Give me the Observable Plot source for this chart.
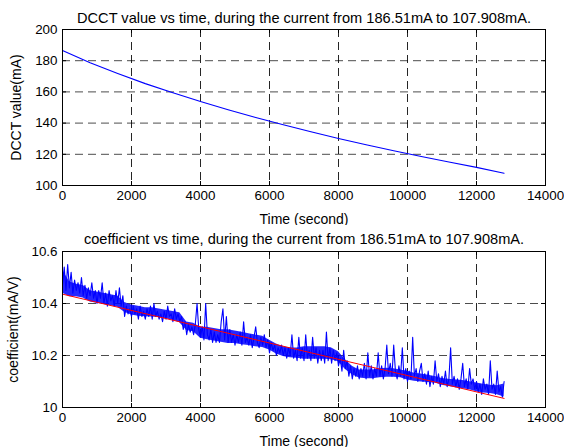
<!DOCTYPE html>
<html>
<head>
<meta charset="utf-8">
<script src="https://cdn.jsdelivr.net/npm/d3@7"></script>
<script src="https://cdn.jsdelivr.net/npm/@observablehq/plot@0.6"></script>
<style>
  html, body { margin: 0; padding: 0; background: #fff; }
  #chart svg { display: block; }
</style>
</head>
<body>
<div id="chart"></div>
<script>
// ---------- data ----------
const xTicks = [0, 2000, 4000, 6000, 8000, 10000, 12000, 14000];
const dcctTicks = [100, 120, 140, 160, 180, 200];
const coefTicks = [10, 10.2, 10.4, 10.6];

const titleTop = "DCCT value vs time, during the current from 186.51mA to 107.908mA.";
const titleBottom = "coefficient vs time, during the current from 186.51mA to 107.908mA.";
const xLabel = "Time (second)";
const yLabelTop = "DCCT value(mA)";
const yLabelBottom = "coefficient(mA/V)";

// DCCT current (mA) sampled every 800 s
const dcctTime = [0, 800, 1600, 2400, 3200, 4000, 4800, 5600, 6400, 7200, 8000, 8800, 9600, 10400, 11200, 12000, 12800];
const dcctValue = [186.51, 178.7, 171.8, 165.3, 159.5, 153.8, 148.6, 143.6, 138.9, 134.4, 130.1, 126.1, 122.3, 118.6, 115.1, 111.6, 107.9];

// coefficient (mA/V) sampled every 50 s, 0 .. 12800 s
const coefStep = 50;
const coefValue = [
  10.47, 10.54, 10.45, 10.55, 10.46, 10.52, 10.44, 10.49, 10.45, 10.48,
  10.44, 10.50, 10.43, 10.47, 10.42, 10.46, 10.43, 10.48, 10.42, 10.45,
  10.40, 10.45, 10.42, 10.48, 10.40, 10.44, 10.39, 10.45, 10.41, 10.43,
  10.39, 10.45, 10.40, 10.46, 10.39, 10.43, 10.35, 10.39, 10.36, 10.38,
  10.35, 10.39, 10.36, 10.38, 10.34, 10.39, 10.35, 10.37, 10.34, 10.38,
  10.35, 10.39, 10.34, 10.40, 10.35, 10.37, 10.34, 10.36, 10.33, 10.37,
  10.34, 10.39, 10.35, 10.36, 10.33, 10.38, 10.34, 10.36, 10.33, 10.35,
  10.30, 10.33, 10.28, 10.32, 10.29, 10.31, 10.28, 10.32, 10.40, 10.30,
  10.27, 10.31, 10.26, 10.40, 10.28, 10.26, 10.30, 10.25, 10.29, 10.25,
  10.28, 10.25, 10.33, 10.38, 10.26, 10.35, 10.25, 10.30, 10.25, 10.28,
  10.24, 10.28, 10.25, 10.29, 10.24, 10.33, 10.25, 10.27, 10.24, 10.28,
  10.23, 10.27, 10.31, 10.25, 10.23, 10.27, 10.24, 10.28, 10.23, 10.26,
  10.21, 10.25, 10.22, 10.24, 10.20, 10.23, 10.21, 10.24, 10.20, 10.23,
  10.19, 10.23, 10.20, 10.28, 10.19, 10.22, 10.18, 10.27, 10.19, 10.23,
  10.18, 10.28, 10.19, 10.22, 10.18, 10.27, 10.19, 10.23, 10.17, 10.22,
  10.18, 10.22, 10.17, 10.29, 10.18, 10.23, 10.17, 10.22, 10.18, 10.21,
  10.16, 10.19, 10.14, 10.22, 10.15, 10.18, 10.12, 10.16, 10.11, 10.15,
  10.12, 10.16, 10.11, 10.15, 10.12, 10.17, 10.11, 10.21, 10.12, 10.16,
  10.11, 10.15, 10.12, 10.21, 10.12, 10.16, 10.11, 10.15, 10.24, 10.13,
  10.17, 10.12, 10.24, 10.14, 10.11, 10.16, 10.12, 10.23, 10.11, 10.15,
  10.10, 10.14, 10.11, 10.27, 10.12, 10.15, 10.10, 10.14, 10.17, 10.10,
  10.13, 10.09, 10.14, 10.08, 10.12, 10.09, 10.18, 10.10, 10.13, 10.08,
  10.12, 10.09, 10.14, 10.08, 10.11, 10.23, 10.09, 10.12, 10.08, 10.11,
  10.07, 10.11, 10.17, 10.08, 10.11, 10.07, 10.15, 10.09, 10.11, 10.07,
  10.10, 10.06, 10.09, 10.05, 10.11, 10.07, 10.09, 10.05, 10.18, 10.07,
  10.09, 10.05, 10.14, 10.06, 10.08, 10.04, 10.10
];

// dense noise band of the coefficient trace (read every 200 s): lower / upper edge
const bandTime = [
  0, 200, 400, 600, 800, 1000, 1200, 1400, 1600, 1800,
  2000, 2200, 2400, 2600, 2800, 3000, 3200, 3400, 3600, 3800,
  4000, 4200, 4400, 4600, 4800, 5000, 5200, 5400, 5600, 5800,
  6000, 6200, 6400, 6600, 6800, 7000, 7200, 7400, 7600, 7800,
  8000, 8200, 8400, 8600, 8800, 9000, 9200, 9400, 9600, 9800,
  10000, 10200, 10400, 10600, 10800, 11000, 11200, 11400, 11600, 11800,
  12000, 12200, 12400, 12600, 12800
];
const bandLow = [
  10.44, 10.426, 10.426, 10.421, 10.406, 10.401, 10.396, 10.391, 10.386, 10.366,
  10.356, 10.351, 10.349, 10.348, 10.346, 10.341, 10.336, 10.326, 10.296, 10.291,
  10.266, 10.261, 10.256, 10.251, 10.246, 10.246, 10.241, 10.238, 10.234, 10.231,
  10.221, 10.206, 10.196, 10.191, 10.189, 10.186, 10.186, 10.186, 10.186, 10.184,
  10.176, 10.146, 10.126, 10.113, 10.111, 10.111, 10.114, 10.116, 10.116, 10.114,
  10.106, 10.101, 10.098, 10.096, 10.094, 10.086, 10.081, 10.076, 10.072, 10.068,
  10.061, 10.056, 10.054, 10.049, 10.04
];
const bandHigh = [
  10.53, 10.484, 10.474, 10.469, 10.449, 10.444, 10.439, 10.434, 10.429, 10.404,
  10.394, 10.389, 10.384, 10.384, 10.379, 10.374, 10.369, 10.364, 10.329, 10.324,
  10.309, 10.309, 10.304, 10.299, 10.299, 10.294, 10.289, 10.284, 10.279, 10.274,
  10.259, 10.244, 10.234, 10.229, 10.229, 10.234, 10.234, 10.234, 10.234, 10.229,
  10.214, 10.184, 10.159, 10.144, 10.144, 10.144, 10.149, 10.151, 10.149, 10.144,
  10.139, 10.132, 10.129, 10.124, 10.119, 10.112, 10.109, 10.106, 10.104, 10.099,
  10.094, 10.089, 10.086, 10.084, 10.09
];

// linear fit (red) end points
const fitTime = [0, 12800];
const fitValue = [10.436, 10.035];

// ---------- build tables ----------
const dcctData = dcctTime.map((t, i) => ({t, v: dcctValue[i]}));
const coefData = coefValue.map((v, i) => ({t: i * coefStep, v}));
const bandData = bandTime.map((t, i) => ({t, lo: bandLow[i], hi: bandHigh[i]}));
const fitData = fitTime.map((t, i) => ({t, v: fitValue[i]}));

const W = 564;
const font = "'Liberation Sans', Arial, Helvetica, sans-serif";

function panel({height, marginTop, marginBottom, yDomain, yTicks, data, band, fit, title, yLabel, titleDy, yLabelOffset}) {
  const marginLeft = 62, marginRight = 19;
  const fw = W - marginLeft - marginRight;
  const fh = height - marginTop - marginBottom;
  const inner = (a) => a.slice(1, -1);
  const marks = [
    Plot.gridX(inner(xTicks), {stroke: "#000", strokeOpacity: 0.85, strokeDasharray: "8,5"}),
    Plot.gridY(inner(yTicks), {stroke: "#000", strokeOpacity: 0.7, strokeDasharray: "8,5"}),
  ];
  if (band) marks.push(Plot.areaY(band, {x: "t", y1: "lo", y2: "hi", fill: "#0000ff", fillOpacity: 0.85, curve: "linear"}));
  marks.push(Plot.line(data, {x: "t", y: "v", stroke: "#0000ff", strokeWidth: 1.1}));
  if (fit) marks.push(Plot.line(fit, {x: "t", y: "v", stroke: "#ff0000", strokeWidth: 1}));
  marks.push(
    Plot.tickX(xTicks, {x: d => d, stroke: "#000", insetTop: fh - 4}),
    Plot.tickX(xTicks, {x: d => d, stroke: "#000", insetBottom: fh - 4}),
    Plot.tickY(yTicks, {y: d => d, stroke: "#000", insetRight: fw - 4}),
    Plot.tickY(yTicks, {y: d => d, stroke: "#000", insetLeft: fw - 4}),
    Plot.frame({stroke: "#000", strokeWidth: 1}),
    Plot.axisX(xTicks, {tickSize: 0, tickPadding: 5, tickFormat: d => String(d), fontSize: 13.4,
      label: null}),
    Plot.axisX({label: xLabel, labelAnchor: "center", labelArrow: "none", labelOffset: 38, fontSize: 14,
      ticks: [], tickSize: 0}),
    Plot.axisY(yTicks, {tickSize: 0, tickPadding: 5, tickFormat: d => String(d), fontSize: 13.4,
      label: null}),
    Plot.axisY({label: yLabel, labelAnchor: "center", labelArrow: "none", labelOffset: yLabelOffset, fontSize: 14,
      ticks: [], tickSize: 0}),
    Plot.text([title], {text: d => d, frameAnchor: "top", lineAnchor: "bottom", dy: titleDy, fontSize: 14.6, fill: "#000"})
  );
  return Plot.plot({
    width: W, height, marginTop, marginBottom, marginLeft, marginRight,
    x: {domain: [0, 14000]},
    y: {domain: yDomain},
    style: {fontFamily: font, fontSize: "13.4px", color: "#000", background: "#fff"},
    marks
  });
}

const topPanel = panel({height: 225, marginTop: 29, marginBottom: 40, yDomain: [100, 200], yTicks: dcctTicks,
  data: dcctData, band: null, fit: null, title: titleTop, yLabel: yLabelTop, titleDy: -7, yLabelOffset: 51});
const bottomPanel = panel({height: 222, marginTop: 26, marginBottom: 40, yDomain: [10, 10.6], yTicks: coefTicks,
  data: coefData, band: bandData, fit: fitData, title: titleBottom, yLabel: yLabelBottom, titleDy: -8, yLabelOffset: 54});

const root = document.getElementById("chart");
root.appendChild(topPanel);
root.appendChild(bottomPanel);
</script>
</body>
</html>
